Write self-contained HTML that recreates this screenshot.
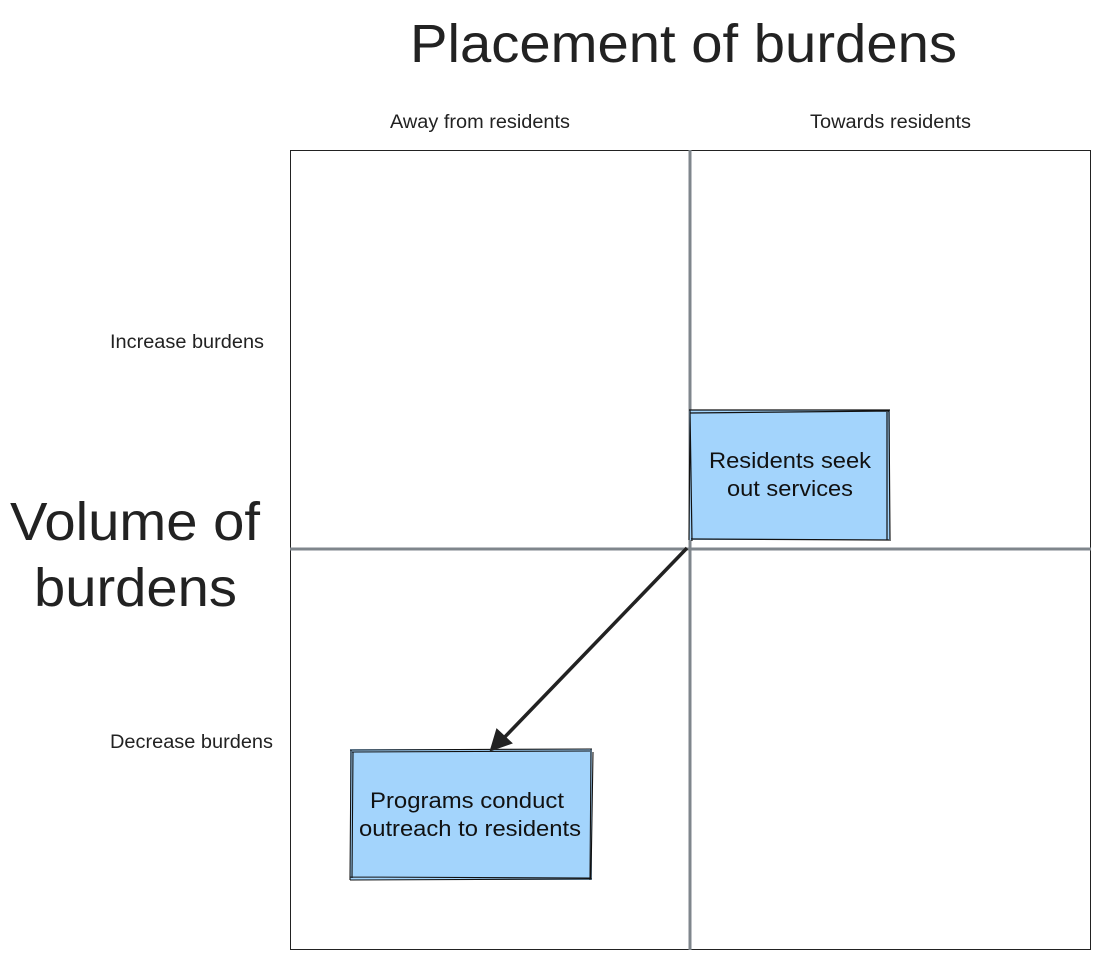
<!DOCTYPE html>
<html><head><style>
html,body{margin:0;padding:0;background:#fff;width:1100px;height:960px;overflow:hidden}
</style></head><body>
<svg width="1100" height="960" xmlns="http://www.w3.org/2000/svg" font-family="Liberation Sans, sans-serif">
<text x="410" y="62" font-size="54" textLength="547" lengthAdjust="spacingAndGlyphs" fill="#222">Placement of burdens</text>
<text x="390" y="128" font-size="19" textLength="180" lengthAdjust="spacingAndGlyphs" fill="#222">Away from residents</text>
<text x="810" y="128" font-size="19" textLength="161" lengthAdjust="spacingAndGlyphs" fill="#222">Towards residents</text>
<text x="110" y="348" font-size="19" textLength="154" lengthAdjust="spacingAndGlyphs" fill="#222">Increase burdens</text>
<text x="110" y="748" font-size="19" textLength="163" lengthAdjust="spacingAndGlyphs" fill="#222">Decrease burdens</text>
<text x="10" y="540" font-size="54" textLength="250" lengthAdjust="spacingAndGlyphs" fill="#222">Volume of</text>
<text x="34" y="606" font-size="54" textLength="203" lengthAdjust="spacingAndGlyphs" fill="#222">burdens</text>
<rect x="290.5" y="150.5" width="800" height="799" fill="none" stroke="#222" stroke-width="1"/>
<line x1="690" y1="150" x2="690" y2="950" stroke="#7f868c" stroke-width="3"/>
<line x1="290" y1="549" x2="1091" y2="549" stroke="#7f868c" stroke-width="3"/>
<rect x="689" y="410" width="201" height="130" fill="#a3d4fc"/>
<path d="M689 410 L890 410 M690 413 L889 411 M889 410 L890 541 M887 412 L887 540 M889 540 L691 539 M692 541 L690 410 M690 410 L689 540" fill="none" stroke="#111" stroke-width="1.2"/>
<text x="709" y="468" font-size="22" textLength="162" lengthAdjust="spacingAndGlyphs" fill="#111">Residents seek</text>
<text x="727" y="496" font-size="22" textLength="126" lengthAdjust="spacingAndGlyphs" fill="#111">out services</text>
<rect x="350" y="749" width="242" height="131" fill="#a3d4fc"/>
<path d="M350 750 L592 749 M352 752 L590 751 M591 749 L590 880 M593 752 L591 879 M592 879 L350 880 M350 877 L590 878 M350 880 L351 750 M353 752 L352 878" fill="none" stroke="#111" stroke-width="1.1"/>
<text x="370" y="808" font-size="22" textLength="194" lengthAdjust="spacingAndGlyphs" fill="#111">Programs conduct</text>
<text x="359" y="836" font-size="22" textLength="222" lengthAdjust="spacingAndGlyphs" fill="#111">outreach to residents</text>
<line x1="687" y1="548" x2="500" y2="742" stroke="#222" stroke-width="3.5"/>
<path d="M491 750 L497 730 L511 743 Z" fill="#222" stroke="#222" stroke-width="2"/>
</svg>
</body></html>
